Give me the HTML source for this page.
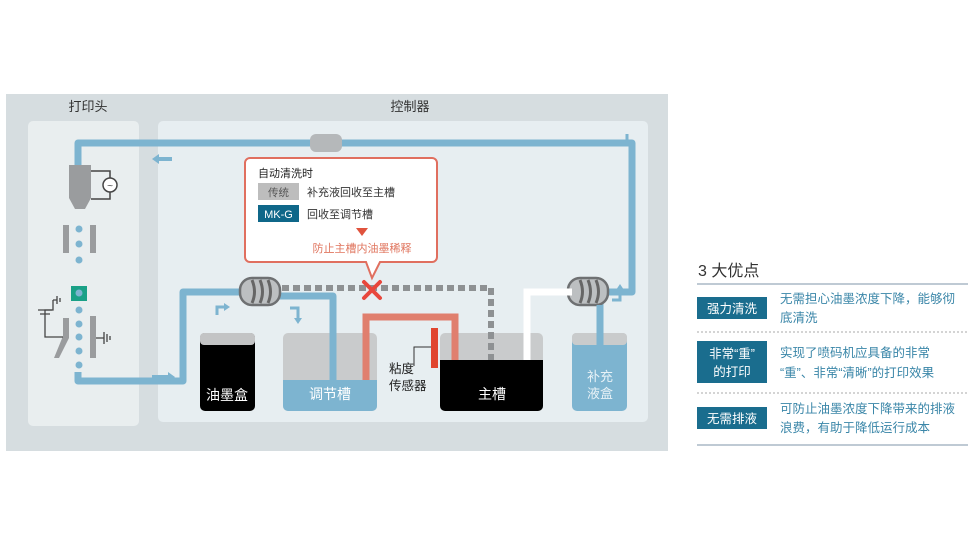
<!DOCTYPE html>
<html><head><meta charset="utf-8"><style>
body{margin:0;background:#fff;}
svg text{font-family:"Liberation Sans","Noto Sans CJK SC",sans-serif;}
</style></head><body>
<svg width="980" height="550" viewBox="0 0 980 550" xmlns="http://www.w3.org/2000/svg">
<rect width="980" height="550" fill="#fff"/>
<rect x="6" y="94" width="662" height="357" fill="#d6dde0"/>
<rect x="28" y="121" width="111" height="305" rx="5" fill="#e9eeef"/>
<rect x="158" y="121" width="490" height="301" rx="5" fill="#e7eef1"/>
<text x="88" y="111" font-size="13" text-anchor="middle" fill="#333">打印头</text>
<text x="410" y="111" font-size="13" text-anchor="middle" fill="#333">控制器</text>
<g fill="none" stroke="#7db4d0" stroke-width="7" stroke-linejoin="round">
<path d="M78 165 V143 H632 V292 H604"/>
<path d="M78 372 V381 H183 V292 H242"/>
<path d="M278 296 H333 V382"/>
<path d="M600 300 V335"/>
</g>
<rect x="310" y="134" width="32" height="18" rx="6" fill="#b5b8ba"/>
<path d="M172 159 H158" stroke="#7db4d0" stroke-width="4"/><path d="M152 159 l7 -5 v10z" fill="#7db4d0"/>
<path d="M152 377 H168" stroke="#7db4d0" stroke-width="4"/><path d="M175 377 l-7 -5 v10z" fill="#7db4d0"/>
<!-- nozzle -->
<path d="M69 165 H91 V198 L85 209 H75 L69 198Z" fill="#9a9c9e"/>
<path d="M91 171 H110 V199 H91" fill="none" stroke="#444" stroke-width="1.5"/>
<circle cx="110" cy="185" r="7" fill="#fff" stroke="#444" stroke-width="1.5"/>
<text x="110" y="189" font-size="10" text-anchor="middle" fill="#444">~</text>
<g fill="#9a9c9e"><rect x="63" y="225" width="6" height="28"/><rect x="90" y="225" width="6" height="28"/><rect x="90" y="316" width="6" height="42"/>
<path d="M63 318 h6 v20 l-10 20 h-5 l9 -22z"/></g>
<g fill="#7db4d0"><circle cx="79" cy="229" r="3.5"/><circle cx="79" cy="244" r="3.5"/><circle cx="79" cy="260" r="3.5"/><circle cx="79" cy="310" r="3.5"/><circle cx="79" cy="324" r="3.5"/><circle cx="79" cy="337" r="3.5"/><circle cx="79" cy="351" r="3.5"/><circle cx="79" cy="365" r="3.5"/></g>
<rect x="71" y="286" width="16" height="15" fill="#1aa187"/><circle cx="79" cy="293" r="3.5" fill="#7db4d0"/>
<g stroke="#444" stroke-width="1.3" fill="none">
<path d="M53 300 V310 H45 V337 H63"/><path d="M53 300 h4 M57 296 v8 M60 298 v4"/><path d="M38 310 h14 M40 314 h10"/>
<path d="M96 338 h8 M104 332 v12 M107 334 v8 M110 336 v4"/></g>
<!-- callout -->
<path d="M250 158 H432 a5 5 0 0 1 5 5 V257 a5 5 0 0 1 -5 5 H380 L372 278 L366 262 H250 a5 5 0 0 1 -5 -5 V163 a5 5 0 0 1 5 -5Z" fill="#fff" stroke="#e06f5f" stroke-width="2"/>
<text x="258" y="177" font-size="11" fill="#222">自动清洗时</text>
<rect x="258" y="183" width="41" height="17" fill="#bdbdbd"/><text x="278.5" y="196" font-size="10.5" text-anchor="middle" fill="#555">传统</text>
<text x="307" y="196" font-size="11" fill="#333">补充液回收至主槽</text>
<rect x="258" y="205" width="41" height="17" fill="#0f6789"/><text x="278.5" y="218" font-size="11" text-anchor="middle" fill="#fff">MK-G</text>
<text x="307" y="218" font-size="11" fill="#333">回收至调节槽</text>
<path d="M356 228 h12 l-6 8z" fill="#e0533d"/>
<text x="362" y="252" font-size="11" text-anchor="middle" fill="#e0765f">防止主槽内油墨稀释</text>
<!-- dashed -->
<path d="M282 288 H491 V356" fill="none" stroke="#8e9193" stroke-width="6" stroke-dasharray="7 4"/>
<g stroke="#e8473c" stroke-width="4" stroke-linecap="round"><path d="M364 282 L380 298 M380 282 L364 298"/></g>
<!-- connectors -->
<g fill="#bcbfc1" stroke="#6e7072" stroke-width="2.5">
<rect x="240" y="278" width="40" height="27" rx="12"/>
<rect x="568" y="278" width="40" height="27" rx="12"/></g>
<g fill="none" stroke="#666" stroke-width="3"><path d="M252 280 q5 12 0 23 M260 280 q5 12 0 23 M268 280 q5 12 0 23"/><path d="M580 280 q5 12 0 23 M588 280 q5 12 0 23 M596 280 q5 12 0 23"/></g>
<g fill="none" stroke="#7db4d0" stroke-width="3"><path d="M217 315 v-8 h8"/><path d="M290 308 h8 v10"/><path d="M612 300 h8 v-10"/><path d="M627 142 v-8"/></g>
<g fill="#7db4d0"><path d="M224 303 l6 4 -6 4z"/><path d="M294 318 l8 0 -4 6z"/><path d="M616 290 l8 0 -4 -6z"/></g>
<!-- tanks -->
<rect x="200" y="333" width="55" height="78" rx="5" fill="#000"/><rect x="200" y="333" width="55" height="12" rx="4" fill="#c3c4c5"/>
<text x="227" y="400" font-size="14" text-anchor="middle" fill="#fff">油墨盒</text>
<rect x="283" y="333" width="94" height="78" rx="5" fill="#c9cbcc"/><path d="M283 380 H377 V406 a5 5 0 0 1 -5 5 H288 a5 5 0 0 1 -5 -5Z" fill="#7db4d0"/>
<path d="M333 296 V382" stroke="#7db4d0" stroke-width="7"/>
<text x="330" y="399" font-size="14" text-anchor="middle" fill="#fff">调节槽</text>
<rect x="440" y="333" width="103" height="78" rx="5" fill="#c9cbcc"/><path d="M440 360 H543 V406 a5 5 0 0 1 -5 5 H445 a5 5 0 0 1 -5 -5Z" fill="#000"/>
<text x="492" y="399" font-size="14" text-anchor="middle" fill="#fff">主槽</text>
<path d="M366 380 V317 H455 V360" fill="none" stroke="#e07f6e" stroke-width="7"/>
<path d="M491 288 V360" stroke="#8e9193" stroke-width="6" stroke-dasharray="7 4"/>
<path d="M527 360 V292 H572" fill="none" stroke="#fff" stroke-width="7"/>
<rect x="431" y="328" width="7" height="40" fill="#e0452f"/>
<path d="M414 366 V347 H431" fill="none" stroke="#333" stroke-width="1"/>
<text x="389" y="373" font-size="12.5" fill="#222">粘度</text><text x="389" y="390" font-size="12.5" fill="#222">传感器</text>
<rect x="572" y="333" width="55" height="78" rx="5" fill="#7db4d0"/><rect x="572" y="333" width="55" height="12" rx="4" fill="#c9cbcc"/>
<path d="M600 305 V345" stroke="#7db4d0" stroke-width="7"/>
<text x="600" y="381" font-size="13" text-anchor="middle" fill="#e8f2f7">补充</text><text x="600" y="398" font-size="13" text-anchor="middle" fill="#e8f2f7">液盒</text>
<!-- right -->
<text x="698" y="276" font-size="16" fill="#333">3 大优点</text>
<line x1="697" y1="284" x2="968" y2="284" stroke="#9ab" stroke-width="1.2"/>
<rect x="697" y="297" width="70" height="22" fill="#1a6d8e"/><text x="732" y="313" font-size="12.5" text-anchor="middle" fill="#fff">强力清洗</text>
<text x="780" y="303" font-size="12.5" fill="#3a86a8">无需担心油墨浓度下降，能够彻</text><text x="780" y="322" font-size="12.5" fill="#3a86a8">底清洗</text>
<line x1="697" y1="332" x2="968" y2="332" stroke="#aaa" stroke-dasharray="2 2"/>
<rect x="697" y="341" width="70" height="42" fill="#1a6d8e"/><text x="732" y="358" font-size="12.5" text-anchor="middle" fill="#fff">非常“重”</text><text x="732" y="376" font-size="12.5" text-anchor="middle" fill="#fff">的打印</text>
<text x="780" y="357" font-size="12.5" fill="#3a86a8">实现了喷码机应具备的非常</text><text x="780" y="377" font-size="12.5" fill="#3a86a8">“重”、非常“清晰”的打印效果</text>
<line x1="697" y1="393" x2="968" y2="393" stroke="#aaa" stroke-dasharray="2 2"/>
<rect x="697" y="407" width="70" height="22" fill="#1a6d8e"/><text x="732" y="423" font-size="12.5" text-anchor="middle" fill="#fff">无需排液</text>
<text x="780" y="413" font-size="12.5" fill="#3a86a8">可防止油墨浓度下降带来的排液</text><text x="780" y="432" font-size="12.5" fill="#3a86a8">浪费，有助于降低运行成本</text>
<line x1="697" y1="445" x2="968" y2="445" stroke="#9ab" stroke-width="1.2"/>
</svg>
</body></html>
